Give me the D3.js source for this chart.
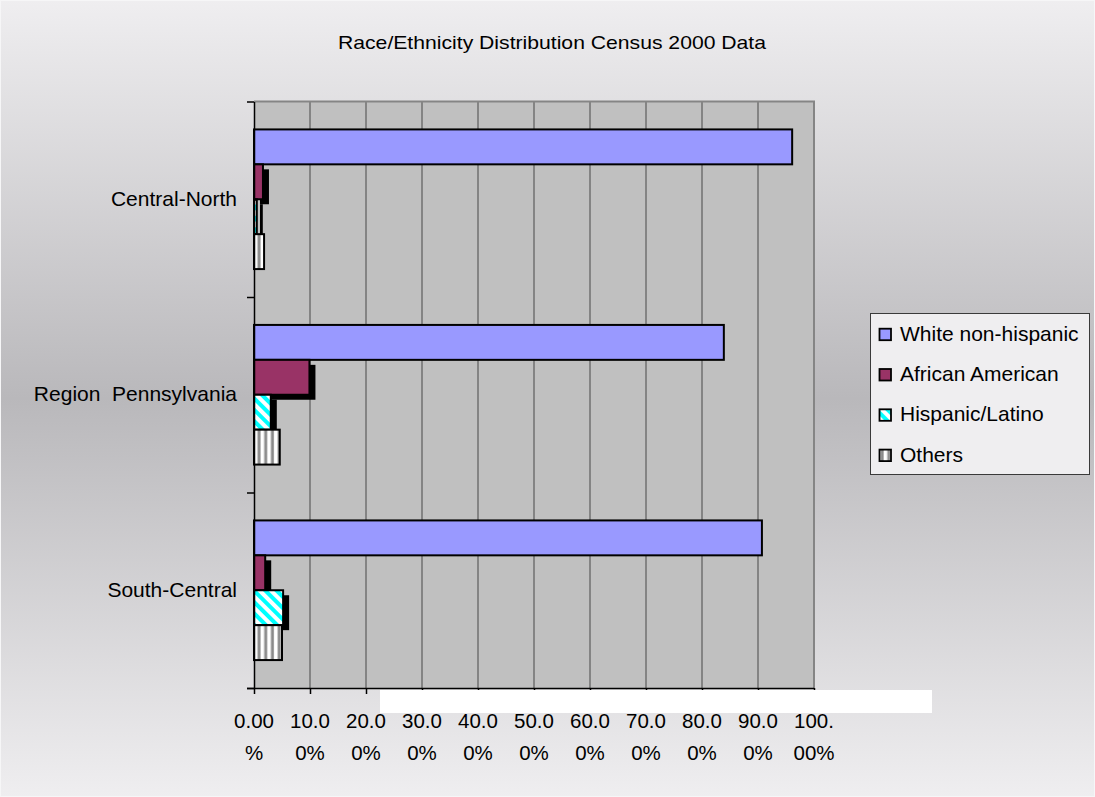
<!DOCTYPE html>
<html>
<head>
<meta charset="utf-8">
<script src="https://cdn.jsdelivr.net/npm/d3@7/dist/d3.min.js"></script>
<style>
  html, body { margin: 0; padding: 0; background: #ffffff; }
  svg { display: block; }
  text { font-family: "Liberation Sans", Arial, sans-serif; fill: #000; }
</style>
</head>
<body>
<svg id="chart" width="1095" height="797"></svg>
<script>
// ---------------- data ----------------
const title = "Race/Ethnicity Distribution Census 2000 Data";
const categories = ["Central-North", "Region  Pennsylvania", "South-Central"];
const seriesNames = ["White non-hispanic", "African American", "Hispanic/Latino", "Others"];
const whiteNonHispanic = [96.1, 83.9, 90.7];
const africanAmerican = [1.6, 9.9, 2.0];
const hispanicLatino = [0.5, 3.0, 5.2];
const others = [1.8, 4.6, 5.0];
const tickValues = [0, 10, 20, 30, 40, 50, 60, 70, 80, 90, 100];
const tickLabels = ["0.00%", "10.00%", "20.00%", "30.00%", "40.00%", "50.00%", "60.00%", "70.00%", "80.00%", "90.00%", "100.00%"];

const seriesValues = [whiteNonHispanic, africanAmerican, hispanicLatino, others];

// ---------------- layout ----------------
const W = 1095, H = 797;
const plot = { left: 254, right: 814, top: 101.5, bottom: 688 };
const svg = d3.select("#chart");
const defs = svg.append("defs");

// background gradient
const bg = defs.append("linearGradient").attr("id", "bgGrad")
  .attr("x1", 0).attr("y1", 0).attr("x2", 0).attr("y2", 1);
bg.append("stop").attr("offset", "0%").attr("stop-color", "#efeef0");
bg.append("stop").attr("offset", "50%").attr("stop-color", "#b9b8bb");
bg.append("stop").attr("offset", "100%").attr("stop-color", "#efeef0");

// hispanic pattern: cyan wide downward diagonal
const pHis = defs.append("pattern").attr("id", "patHis")
  .attr("patternUnits", "userSpaceOnUse").attr("width", 8).attr("height", 8)
  .attr("patternTransform", "rotate(-45)");
pHis.append("rect").attr("width", 8).attr("height", 8).attr("fill", "#ffffff");
pHis.append("rect").attr("width", 4).attr("height", 8).attr("fill", "#00ffff");

// others pattern: vertical gray stripes
const gStripe = defs.append("linearGradient").attr("id", "stripeGrad")
  .attr("x1", 0).attr("y1", 0).attr("x2", 1).attr("y2", 0);
gStripe.append("stop").attr("offset", "0%").attr("stop-color", "#b0b0b0");
gStripe.append("stop").attr("offset", "50%").attr("stop-color", "#808080");
gStripe.append("stop").attr("offset", "100%").attr("stop-color", "#b0b0b0");
const pOth = defs.append("pattern").attr("id", "patOth")
  .attr("patternUnits", "userSpaceOnUse").attr("x", plot.left).attr("width", 6.7).attr("height", 10);
pOth.append("rect").attr("width", 6.7).attr("height", 10).attr("fill", "#ffffff");
pOth.append("rect").attr("x", 3.3).attr("width", 3.4).attr("height", 10).attr("fill", "url(#stripeGrad)");

const fills = ["#9999ff", "#993366", "url(#patHis)", "url(#patOth)"];
const hasShadow = [false, true, true, false];

svg.append("rect").attr("width", W).attr("height", H).attr("fill", "url(#bgGrad)");
svg.append("rect").attr("x", 0.5).attr("y", 0.5).attr("width", W - 1).attr("height", H - 1)
  .attr("fill", "none").attr("stroke", "#f6f6f7").attr("stroke-width", 1);

// ---------------- scales ----------------
const x = d3.scaleLinear().domain([0, 100]).range([plot.left, plot.right]);
const y0 = d3.scaleBand().domain(categories).range([plot.top, plot.bottom]);
const y1 = d3.scaleBand().domain(seriesNames).range([0, y0.bandwidth()]).paddingOuter(0.8).paddingInner(0);

// plot area
svg.append("rect").attr("x", plot.left).attr("y", plot.top)
  .attr("width", plot.right - plot.left).attr("height", plot.bottom - plot.top)
  .attr("fill", "#c0c0c0");

// gridlines
svg.append("g").selectAll("line").data(tickValues.filter(v => v > 0 && v < 100)).join("line")
  .attr("x1", d => x(d)).attr("x2", d => x(d))
  .attr("y1", plot.top).attr("y2", plot.bottom)
  .attr("stroke", "#707070").attr("stroke-width", 1.5);
// gray top/right border
svg.append("path")
  .attr("d", `M${plot.left},${plot.top}H${plot.right}V${plot.bottom}`)
  .attr("fill", "none").attr("stroke", "#858585").attr("stroke-width", 2);

// ---------------- bars ----------------
const barsG = svg.append("g");
categories.forEach((cat, ci) => {
  seriesNames.forEach((s, si) => {
    const v = seriesValues[si][ci];
    const yy = y0(cat) + y1(s);
    const h = y1.bandwidth();
    if (hasShadow[si]) {
      barsG.append("rect")
        .attr("x", x(0) + 6).attr("y", yy + 5)
        .attr("width", x(v) - x(0)).attr("height", h)
        .attr("fill", "#000");
    }
    barsG.append("rect")
      .attr("x", x(0)).attr("y", yy)
      .attr("width", x(v) - x(0)).attr("height", h)
      .attr("fill", fills[si]).attr("stroke", "#000").attr("stroke-width", 2);
  });
});

// ---------------- axes ----------------
const xAxis = d3.axisBottom(x).tickValues(tickValues).tickSizeInner(6).tickSizeOuter(0).tickFormat(() => "");
const gx = svg.append("g").attr("transform", `translate(0,${plot.bottom})`).call(xAxis);
gx.select(".domain").attr("stroke", "#000").attr("stroke-width", 1.5)
  .attr("d", `M${plot.left - 7},0.5H${plot.right}`);
gx.selectAll(".tick line").attr("stroke", "#000").attr("stroke-width", 1.5);

// tick labels (wrapped as in original)
const lbl = svg.append("g");
tickValues.forEach((v, i) => {
  const s = tickLabels[i];
  const t = lbl.append("text").attr("text-anchor", "middle").attr("font-size", 20.5)
    .attr("fill", "#111");
  t.append("tspan").attr("x", x(v)).attr("y", 728).text(s.slice(0, 4));
  t.append("tspan").attr("x", x(v)).attr("y", 760).text(s.slice(4));
});

// left axis
const yLin = d3.scaleLinear().domain([0, categories.length]).range([plot.top, plot.bottom]);
const yAxis = d3.axisLeft(yLin).tickValues(d3.range(0, categories.length + 1)).tickSizeInner(7).tickSizeOuter(0).tickFormat(() => "");
const gy = svg.append("g").attr("transform", `translate(${plot.left},0)`).call(yAxis);
gy.select(".domain").attr("stroke", "#000").attr("stroke-width", 1.5);
gy.selectAll(".tick line").attr("stroke", "#000").attr("stroke-width", 1.5);

// category labels
svg.append("g").selectAll("text").data(categories).join("text")
  .attr("x", 237).attr("y", d => y0(d) + y0.bandwidth() / 2 + 6.5)
  .attr("text-anchor", "end").attr("font-size", 21)
  .style("white-space", "pre")
  .text(d => d);

// ---------------- legend ----------------
const lg = svg.append("g");
lg.append("rect").attr("x", 870.5).attr("y", 313.5).attr("width", 219).attr("height", 161)
  .attr("fill", "#efeef0").attr("stroke", "#3a3a3a").attr("stroke-width", 1);
seriesNames.forEach((s, i) => {
  const base = 340.7 + i * 40.3;
  lg.append("rect").attr("x", 879.5).attr("y", base - 12).attr("width", 11.5).attr("height", 11.5)
    .attr("fill", fills[i]).attr("stroke", "#000").attr("stroke-width", 1.8);
  lg.append("text").attr("x", 900).attr("y", base).attr("font-size", 21).text(s);
});

// white strip artifact over the axis labels
svg.append("rect").attr("x", 380).attr("y", 690).attr("width", 552).attr("height", 23).attr("fill", "#ffffff");

// ---------------- title ----------------
svg.append("text").attr("x", 338).attr("y", 49)
  .attr("font-family", "'Liberation Sans Narrow', 'Liberation Sans', Arial, sans-serif")
  .attr("font-size", 19)
  .attr("textLength", 428).attr("lengthAdjust", "spacingAndGlyphs")
  .text(title);
</script>
</body>
</html>
